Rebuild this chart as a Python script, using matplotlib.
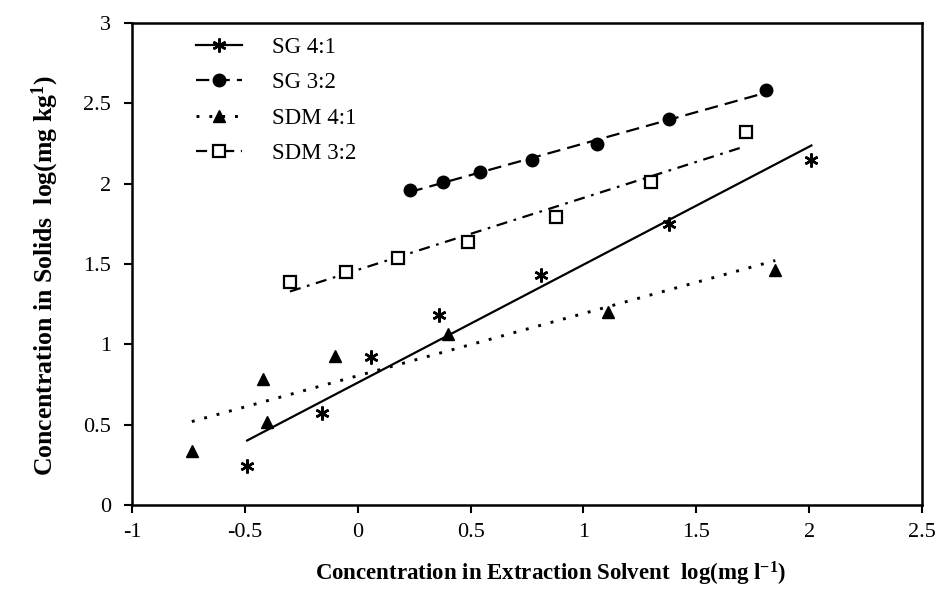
#!/usr/bin/env python3
# -*- coding: utf-8 -*-

import matplotlib
matplotlib.use("Agg")
import matplotlib.pyplot as plt
import numpy as np
from matplotlib.lines import Line2D
from matplotlib.ticker import FuncFormatter


# =========================
# Data
# =========================
SG41_X = [-0.49, -0.16, 0.06, 0.36, 0.81, 1.38, 2.01]
SG41_Y = [0.245, 0.57, 0.92, 1.18, 1.43, 1.75, 2.15]

SG32_X = [0.23, 0.38, 0.54, 0.77, 1.06, 1.38, 1.81]
SG32_Y = [1.96, 2.01, 2.07, 2.15, 2.25, 2.40, 2.58]

SDM41_X = [-0.735, -0.42, -0.40, -0.10, 0.40, 1.11, 1.85]
SDM41_Y = [0.338, 0.784, 0.515, 0.93, 1.064, 1.20, 1.46]

SDM32_X = [-0.30, -0.05, 0.18, 0.49, 0.88, 1.30, 1.72]
SDM32_Y = [1.39, 1.45, 1.535, 1.64, 1.79, 2.01, 2.32]

LABELS = ["SG 4:1", "SG 3:2", "SDM 4:1", "SDM 3:2"]
X_TICKS = [-1, -0.5, 0, 0.5, 1, 1.5, 2, 2.5]
Y_TICKS = [0, 0.5, 1, 1.5, 2, 2.5, 3]

XLABEL = r"Concentration in Extraction Solvent  log(mg l$^{-1}$)"
YLABEL = r"Concentration in Solids  log(mg kg$^{1}$)"

plt.rcParams["font.family"] = ["Liberation Serif", "DejaVu Serif"]
plt.rcParams["mathtext.fontset"] = "custom"
plt.rcParams["mathtext.rm"] = "Liberation Serif"
plt.rcParams["mathtext.bf"] = "Liberation Serif:bold"
plt.rcParams["mathtext.default"] = "regular"
plt.rcParams["axes.unicode_minus"] = False

SERIES = [
    # x, y, marker style, trend line style, trend line width
    (SG41_X, SG41_Y, dict(marker=(6, 2, 0), ms=10, mew=1.8, mfc="black", mec="black"), "-", 1.6),
    (SG32_X, SG32_Y, dict(marker="o", ms=9, mfc="black", mec="black"), (0, (6, 3.2)), 1.6),
    (SDM41_X, SDM41_Y, dict(marker="^", ms=9, mfc="black", mec="black"), (0, (1, 3.4)), 2.1),
    (SDM32_X, SDM32_Y, dict(marker="s", ms=8, mew=1.6, mfc="white", mec="black"), (0, (5, 3, 1.2, 3)), 1.6),
]


def main():
    fig = plt.figure(figsize=(9.36, 6.03), dpi=100)
    ax = fig.add_axes([132 / 936, 1 - 505 / 603, 790 / 936, 482 / 603])

    handles = []
    for (xs, ys, mstyle, ls, lw), label in zip(SERIES, LABELS):
        xs = np.asarray(xs)
        ys = np.asarray(ys)
        # linear trend line over the data range
        slope, icpt = np.polyfit(xs, ys, 1)
        xr = np.array([xs.min(), xs.max()])
        ax.plot(xr, slope * xr + icpt, color="black", lw=lw, linestyle=ls, zorder=2)
        ax.plot(xs, ys, linestyle="none", zorder=3, **mstyle)
        handles.append(Line2D([], [], color="black", lw=lw, linestyle=ls, label=label, **mstyle))

    ax.set_xlim(-1, 2.5)
    ax.set_ylim(0, 3)
    ax.set_xticks(X_TICKS)
    ax.set_yticks(Y_TICKS)
    fmt = FuncFormatter(lambda v, _: f"{v:g}")
    ax.xaxis.set_major_formatter(fmt)
    ax.yaxis.set_major_formatter(fmt)
    ax.tick_params(direction="out", length=6, width=1.5, labelsize=16)
    ax.tick_params(axis="y", pad=9)
    ax.tick_params(axis="x", pad=7)
    for sp in ax.spines.values():
        sp.set_linewidth(1.8)

    ax.set_xlabel(XLABEL, fontsize=16.5, fontweight="bold")
    ax.set_ylabel(YLABEL, fontsize=18.5, fontweight="bold")
    ax.xaxis.set_label_coords(0.53, -0.113)
    ax.yaxis.set_label_coords(-0.09, 0.475)

    ax.legend(handles=handles, loc="upper left", bbox_to_anchor=(0.07, 0.99), frameon=False,
              fontsize=16.5, handlelength=2.0, handletextpad=1.3, labelspacing=0.62, borderaxespad=0)

    plt.savefig("out.png", dpi=100)
    plt.close(fig)


if __name__ == "__main__":
    main()
